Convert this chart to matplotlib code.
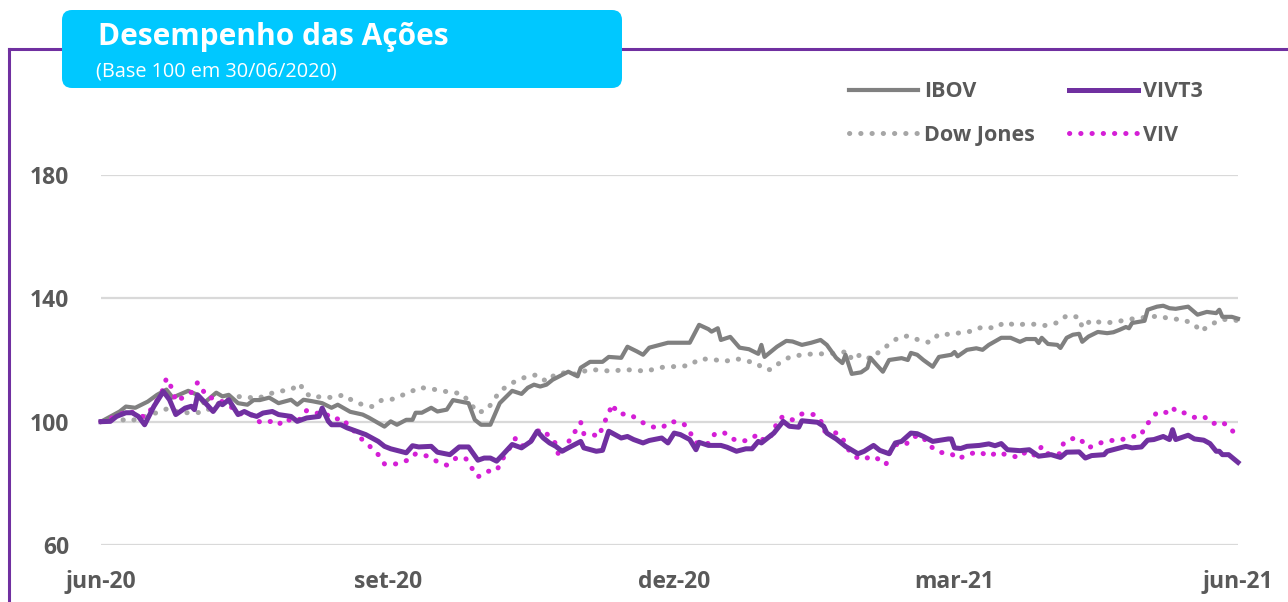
import matplotlib
matplotlib.use('Agg')
import matplotlib.pyplot as plt
from matplotlib.patches import FancyBboxPatch
from matplotlib.lines import Line2D

plt.rcParams['font.family'] = ['Open Sans', 'DejaVu Sans']

# dias corridos desde 30/06/2020 e índice base 100
ibov_dias = [0, 6, 8, 11, 15, 18, 21, 23, 25, 28, 31, 33, 37, 39, 41, 44, 47, 49, 51, 54,
             57, 61, 63, 65, 68, 71, 74, 76, 80, 84, 86, 91, 93, 95, 98, 100, 101, 103, 106, 108,
             111, 113, 118, 120, 122, 125, 128, 132, 135, 137, 139, 141, 143, 145, 150, 153, 154, 157, 161, 163,
             167, 169, 172, 174, 176, 182, 186, 189, 192, 195, 196, 198, 199, 202, 205, 208, 211, 212, 213, 217,
             220, 222, 225, 228, 231, 233, 236, 238, 239, 241, 244, 246, 247, 249, 251, 253, 257, 259, 260, 262,
             264, 267, 269, 273, 274, 275, 278, 281, 283, 285, 289, 292, 295, 297, 300, 301, 302, 304, 307, 308,
             310, 312, 314, 315, 317, 320, 323, 325, 327, 329, 330, 331, 335, 336, 339, 341, 343, 345, 349, 352,
             355, 358, 359, 360, 363, 365]
ibov = [100, 103.3, 104.9, 104.5, 106.5, 108.7, 110.4, 107.8, 108.7, 110, 108.7, 106, 109.4, 108.2, 108.7, 106, 105.5, 107, 107, 107.8,
        106, 107.1, 105.5, 107.1, 106.6, 106, 104.5, 105.5, 103.2, 102.3, 101.3, 98.4, 100.1, 99, 100.6, 100.6, 102.9, 102.9, 104.5, 103.3,
        103.9, 107, 106, 100.6, 99, 99, 106, 110, 109, 111, 112, 111.4, 112, 113.6, 116.2, 114.7, 117.5, 119.4, 119.4, 121,
        120.7, 124.3, 122.8, 121.7, 124, 125.6, 125.6, 125.6, 131.4, 130, 129.2, 130.3, 126.5, 127.5, 124, 123.5, 122, 124.9, 121, 124.3,
        126.2, 126, 124.9, 125.6, 126.5, 124.9, 120.7, 119, 121.7, 115.5, 116, 117.4, 120.7, 118.4, 116.2, 120, 120.6, 120, 122.3, 121.7,
        120, 117.8, 121, 121.7, 122.6, 121.2, 123.3, 123.8, 123.3, 124.9, 127.2, 127.2, 125.9, 126.8, 126.8, 125.5, 127.2, 125.2, 124.9, 123.9,
        127.2, 128.2, 128.5, 125.9, 127.6, 129.1, 128.7, 129, 129.8, 130.7, 130.3, 132, 132.7, 136.3, 137.3, 137.6, 136.8, 136.6, 137.3, 134.7,
        135.6, 135.2, 136.3, 134, 134, 133.4]

dow_dias = [0, 4, 7, 9, 13, 19, 22, 25, 29, 33, 36, 42, 46, 50, 54, 57, 61, 64, 65, 68,
            71, 74, 78, 81, 84, 87, 90, 93, 97, 99, 102, 106, 109, 113, 116, 121, 124, 126, 128, 131,
            134, 137, 140, 143, 146, 150, 153, 156, 160, 164, 167, 171, 175, 179, 182, 185, 189, 192, 196, 200,
            204, 207, 211, 212, 215, 218, 221, 225, 229, 232, 236, 240, 241, 244, 247, 250, 253, 256, 259, 263,
            266, 269, 273, 276, 280, 283, 287, 290, 294, 296, 300, 303, 307, 310, 314, 315, 318, 321, 325, 328,
            332, 336, 340, 343, 347, 351, 353, 356, 360, 365]
dow = [100, 101, 100.6, 100.1, 101.3, 103.3, 104.5, 102.9, 102.9, 103, 105, 108, 108.2, 107.4, 109, 109.8, 110.4, 112.3, 109.7, 107.8,
       108.2, 107.8, 108.7, 106.6, 105.5, 104.9, 106.9, 107.1, 108.7, 109.4, 111.1, 110.7, 110, 109.5, 109, 102.9, 103.9, 106.9, 109.8, 112,
       113.6, 114.7, 115.2, 113, 115.5, 116, 115.2, 116.8, 116.8, 116.3, 116.8, 116.8, 116.3, 117.5, 117.8, 117.9, 118.2, 120.3, 120.3, 119.5,
       120.4, 119.8, 118.7, 117.4, 116.8, 119.2, 120.9, 121.7, 122, 122, 122.2, 122.8, 120, 121.9, 120.4, 122.8, 125.1, 127.3, 127.8, 126.3,
       125.7, 128.4, 128.3, 128.9, 129.4, 130.8, 130.3, 132.2, 131.2, 131.6, 131.6, 131.2, 132.1, 134.4, 133.9, 130.5, 133, 132.1, 132.2, 132.8,
       133.5, 133.9, 134.3, 133.3, 133.2, 131.6, 129.2, 131.4, 133.2, 132.8]

vivt3_dias = [0, 3, 5, 8, 10, 12, 14, 17, 20, 22, 24, 27, 29, 30, 31, 33, 36, 38, 39, 41,
              44, 46, 48, 50, 52, 55, 57, 61, 63, 66, 70, 71, 73, 74, 77, 79, 82, 85, 89, 91,
              93, 96, 98, 100, 102, 106, 108, 112, 115, 118, 121, 123, 125, 127, 129, 132, 135, 138, 140, 142,
              144, 146, 148, 150, 154, 155, 159, 161, 163, 167, 169, 171, 174, 176, 180, 182, 184, 186, 189, 191,
              192, 195, 199, 201, 204, 207, 209, 211, 212, 216, 219, 221, 224, 225, 230, 232, 233, 236, 239, 243,
              245, 248, 250, 253, 255, 257, 260, 262, 264, 267, 272, 273, 274, 276, 278, 282, 285, 287, 289, 291,
              295, 298, 301, 305, 308, 310, 314, 316, 318, 322, 323, 326, 329, 331, 334, 336, 338, 341, 343, 344,
              345, 349, 351, 354, 356, 358, 359, 360, 362, 365]
vivt3 = [100, 100.1, 101.7, 102.9, 102.9, 101.7, 99, 105, 109.8, 107.1, 102.3, 104.4, 105, 103.9, 108.7, 106.6, 103.3, 106, 105.5, 107.1,
         102.3, 103.3, 102.3, 101.7, 102.8, 103.3, 102.3, 101.7, 100.1, 101.2, 101.7, 104.4, 100.1, 99, 99, 98, 96.9, 95.8, 93.6, 92,
         91.2, 90.4, 89.9, 92.2, 91.8, 92, 90.1, 89.3, 91.8, 91.8, 87.5, 88.2, 88.2, 87.2, 89.3, 92.6, 91.5, 93.6, 96.9, 94.7,
         93.1, 92, 90.4, 91.5, 93.6, 91.5, 90.4, 90.7, 96.9, 94.7, 95.2, 94.2, 93.1, 93.9, 94.7, 93.1, 96.3, 95.8, 94.2, 90.9,
         93.3, 92.3, 92.3, 91.7, 90.4, 91.2, 91.2, 93.6, 93.1, 96.3, 100.1, 98.5, 98.2, 100.3, 99.8, 98.5, 96.3, 94.4, 92, 89.6,
         90.4, 92.3, 90.7, 89.6, 93.1, 93.6, 96.3, 96.1, 95.2, 93.6, 94.4, 94.4, 91.5, 91.3, 92, 92.3, 92.8, 92.2, 92.9, 90.9,
         90.6, 90.9, 88.8, 89.3, 88.4, 90.1, 90.2, 88.2, 89, 89.3, 90.4, 91.2, 92, 91.5, 91.8, 94, 94.2, 95.2, 94.2, 97.4,
         94.2, 95.6, 94.4, 94, 92.9, 90.4, 90.4, 89.3, 89.3, 86.8]

viv_dias = [0, 3, 6, 9, 11, 14, 16, 18, 20, 21, 23, 24, 27, 29, 31, 32, 34, 37, 40, 42,
            44, 47, 49, 51, 55, 57, 59, 61, 62, 64, 66, 70, 72, 74, 78, 79, 82, 84, 86, 89,
            91, 95, 99, 101, 105, 108, 111, 114, 117, 119, 121, 124, 127, 129, 131, 133, 135, 138, 140, 142,
            144, 146, 147, 148, 150, 152, 154, 155, 156, 160, 161, 163, 164, 166, 170, 173, 177, 180, 183, 187,
            189, 191, 193, 195, 197, 200, 202, 205, 208, 211, 213, 216, 217, 219, 222, 225, 229, 231, 232, 235,
            238, 239, 242, 245, 247, 249, 252, 253, 255, 258, 261, 264, 265, 269, 273, 275, 279, 282, 285, 288,
            291, 295, 297, 300, 302, 304, 308, 309, 313, 315, 317, 320, 324, 327, 330, 334, 335, 337, 339, 342,
            344, 345, 348, 351, 354, 357, 359, 362, 364]
viv = [100, 101, 102.3, 103.6, 102.5, 101.5, 103.9, 106.9, 110.6, 114.1, 110.4, 106.6, 108.2, 109.5, 112.7, 111.4, 108, 107.4, 106, 104.6,
       102.8, 101.9, 102.3, 99.8, 100.1, 99, 101, 100.3, 99.9, 100.9, 103.6, 102.6, 102.8, 100.9, 100.9, 99, 96.3, 94, 92.3, 89.3,
       86.3, 86.3, 87.7, 89.6, 88.8, 87, 85.9, 88.2, 88.2, 85, 82.1, 83.9, 84.1, 88, 91.2, 94.5, 92, 93.6, 96.9, 97.4,
       95, 92.9, 88.6, 90.2, 93.3, 96.5, 99.8, 96.1, 96.3, 95.2, 98.7, 102.5, 105.7, 102.6, 102.3, 100.1, 98.3, 98, 100.1, 99.4,
       96.7, 93.1, 93.3, 92.9, 96, 96.5, 94.7, 93.6, 94, 96, 93.6, 96.3, 100.3, 101.7, 100.6, 102.5, 102.3, 100.6, 96.9, 96.9,
       95, 92, 88.6, 87.7, 88.8, 88.2, 86.1, 89.6, 92.6, 92.3, 95.2, 95.2, 92.9, 90.1, 89.6, 87.9, 89.6, 90.2, 88.8, 90.1,
       89.1, 88.4, 90.4, 89, 92, 89.6, 89.6, 93.1, 95, 93.6, 91.5, 92.9, 93.9, 93.9, 95, 95.6, 98.5, 100.4, 103.1, 103,
       104.7, 103.3, 102.8, 101.4, 101.7, 99.3, 100.1, 98.7, 96]

tick_dias = [0, 92, 184, 274, 365]
tick_rotulos = ['jun-20', 'set-20', 'dez-20', 'mar-21', 'jun-21']
y_ticks = [60, 100, 140, 180]

texto = '#595959'
fig = plt.figure(figsize=(12.88, 6.02), dpi=100)
ax = fig.add_axes([101 / 1288, 1 - 545 / 602, (1238 - 101) / 1288, (545 - 175) / 602])

pontilhado = (0, (0.05, 2.2))
l_ibov, = ax.plot(ibov_dias, ibov, color='#808080', lw=3.0, label='IBOV', clip_on=False, zorder=3,
                  solid_joinstyle='round')
l_dow, = ax.plot(dow_dias, dow, color='#a6a6a6', lw=3.6, ls=pontilhado, dash_capstyle='round',
                 label='Dow Jones', clip_on=False, zorder=2)
l_viv, = ax.plot(viv_dias, viv, color='#d41fd6', lw=3.6, ls=pontilhado, dash_capstyle='round',
                 label='VIV', clip_on=False, zorder=4)
l_vivt3, = ax.plot(vivt3_dias, vivt3, color='#7030a0', lw=3.6, label='VIVT3', clip_on=False, zorder=5,
                   solid_joinstyle='round')

ax.set_xlim(0, 365)
ax.set_ylim(60, 180)
ax.set_yticks(y_ticks)
ax.set_xticks(tick_dias)
ax.set_xticklabels(tick_rotulos)
ax.grid(axis='y', color='#d9d9d9', lw=1.6)
ax.set_axisbelow(True)
for s in ax.spines.values():
    s.set_visible(False)
ax.tick_params(length=0, labelsize=16.5, labelcolor=texto)
ax.tick_params(axis='y', pad=23)
ax.tick_params(axis='x', pad=18)
for lab in ax.get_xticklabels() + ax.get_yticklabels():
    lab.set_fontweight('bold')

leg = fig.legend([l_ibov, l_dow, l_vivt3, l_viv], ['IBOV', 'Dow Jones', 'VIVT3', 'VIV'],
                 ncol=2, loc='upper left', bbox_to_anchor=(830 / 1288, 1 - 62 / 602),
                 frameon=False, handlelength=3.2, handletextpad=0.25, columnspacing=1.6,
                 labelspacing=1.05, prop={'weight': 'bold', 'size': 15.5})
for t in leg.get_texts():
    t.set_color(texto)

# moldura roxa
fig.add_artist(Line2D([0.09, 0.09], [0, 5.53], color='#7030a0', lw=2.2,
                      transform=fig.dpi_scale_trans, zorder=1))
fig.add_artist(Line2D([0.09, 12.88], [5.53, 5.53], color='#7030a0', lw=2.2,
                      transform=fig.dpi_scale_trans, zorder=1))

# caixa do título
caixa = FancyBboxPatch((0.62, 5.14), 5.6, 0.78, boxstyle='round,pad=0,rounding_size=0.1',
                       transform=fig.dpi_scale_trans, facecolor='#00c8ff', edgecolor='none', zorder=6)
fig.add_artist(caixa)
fig.text(0.98, 5.65, 'Desempenho das Ações', transform=fig.dpi_scale_trans, color='white',
         fontsize=21.5, fontweight='bold', va='center', ha='left', zorder=7)
fig.text(0.96, 5.30, '(Base 100 em 30/06/2020)', transform=fig.dpi_scale_trans, color='white',
         fontsize=14.3, va='center', ha='left', zorder=7)

fig.savefig('out.png', dpi=100)
